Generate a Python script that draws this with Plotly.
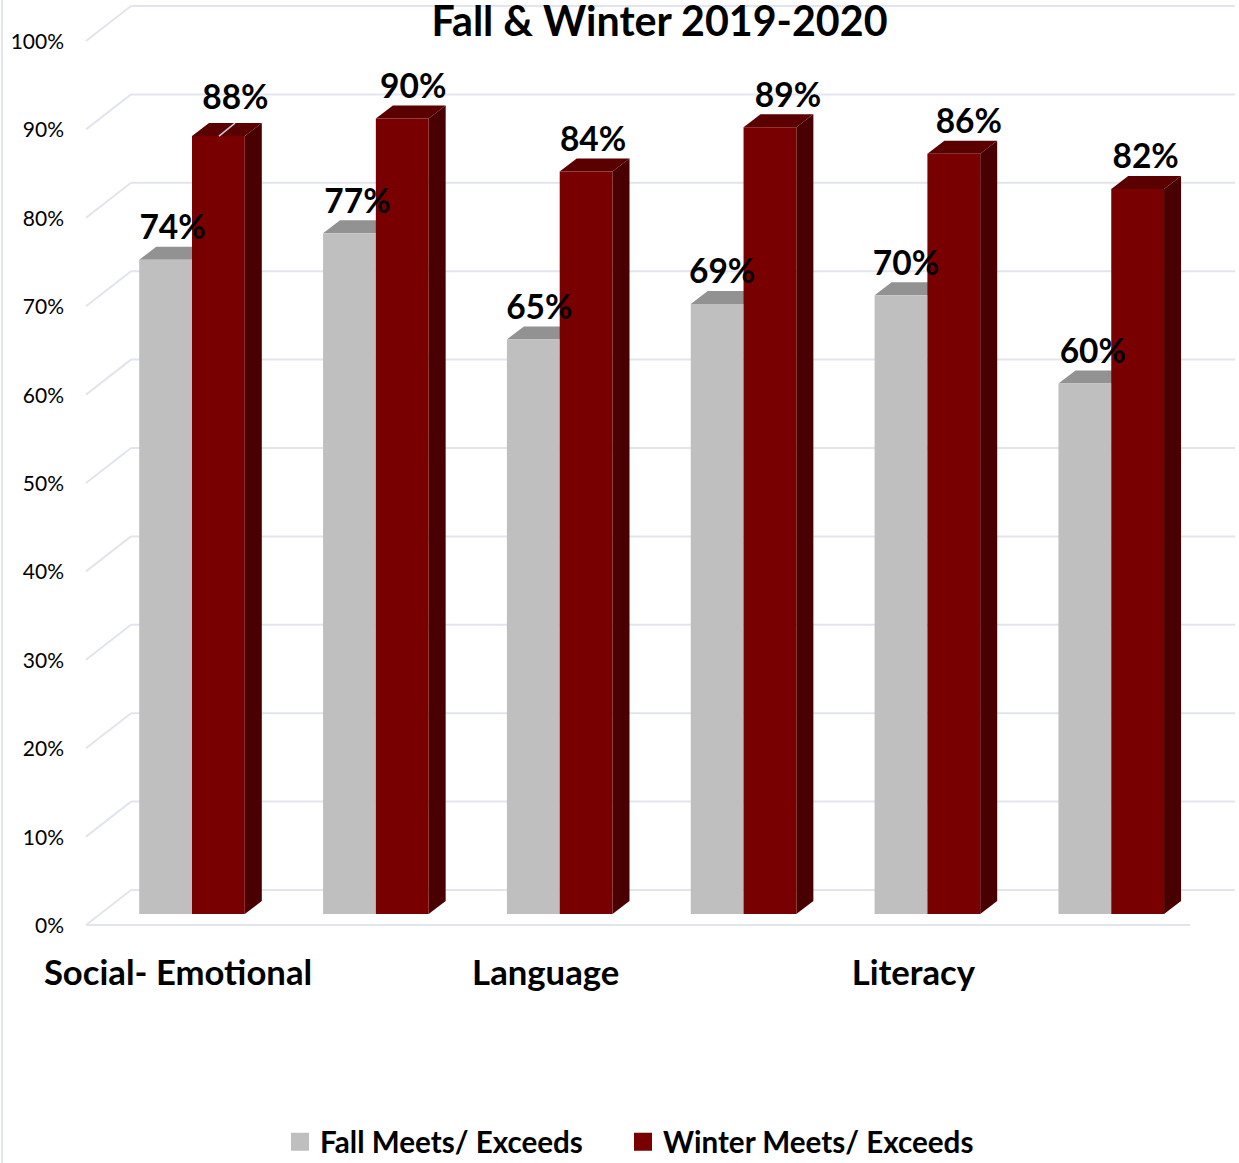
import plotly.graph_objects as go

# ---- data ----
categories = ["Social- Emotional", "", "Language", "", "Literacy", ""]
fall_values = [74, 77, 65, 69, 70, 60]
winter_values = [88, 90, 84, 89, 86, 82]
value_ticks = [0, 10, 20, 30, 40, 50, 60, 70, 80, 90, 100]
series_names = ["Fall Meets/ Exceeds", "Winter Meets/ Exceeds"]
chart_title = "Fall & Winter 2019-2020"

# label nudges relative to the bar centre, in px (as placed in the original)
fall_label_dx = [7, 8, 6, 5, 5, 8]
winter_label_dx = [17, 11, 7, 18, 15, 8]
winter_label_dy = [35, 29, 29, 29, 29, 29]
fall_label_dy = [29, 29, 29, 29, 29, 29]

# ---- layout constants (px) ----
W, H = 1239, 1163
SPARE = 10            # extra canvas under the window, keeps the legend from resizing the plot
GROUP_PX = 183.85     # one category step
ORIGIN_X = 192.0      # px of category 0 centre (boundary between two bars)
UNIT_PX = 8.84        # one percent
ZERO_Y = 914.0        # px of value 0 on the bar front
BAR_W = 52.8 / GROUP_PX
DEPTH_X = 17.0 / GROUP_PX
DEPTH_Y = 13.0 / UNIT_PX
FLOOR_DY = 11.0 / UNIT_PX   # front floor line is below bar base
BACK_DY = 24.0 / UNIT_PX    # back wall is above bar base
LEFT_X = (86 - ORIGIN_X) / GROUP_PX
WALL_X = (131 - ORIGIN_X) / GROUP_PX
FLOOR_END_X = (1190 - ORIGIN_X) / GROUP_PX
BACK_END_X = (1235 - ORIGIN_X) / GROUP_PX

FONT = "Lato, Carlito, Calibri, sans-serif"
GRID = "#E2E5EE"
GREY, GREY_TOP = "#BFBFBF", "#929292"
RED, RED_TOP, RED_SIDE = "#790000", "#5A0000", "#480000"

def poly(points):
    return "M" + " L".join(f"{x:.4f},{y:.4f}" for x, y in points) + " Z"

def line_shape(x0, y0, x1, y1):
    return dict(type="line", xref="x", yref="y", x0=x0, y0=y0, x1=x1, y1=y1,
                layer="below", line=dict(color=GRID, width=2))

shapes = []
# wall / floor lines
for v in value_ticks:
    shapes.append(line_shape(WALL_X, v + BACK_DY, BACK_END_X, v + BACK_DY))
    shapes.append(line_shape(LEFT_X, v - FLOOR_DY, WALL_X, v + BACK_DY))
shapes.append(line_shape(LEFT_X, -FLOOR_DY, FLOOR_END_X, -FLOOR_DY))
shapes.append(dict(type="line", xref="paper", yref="paper", x0=2 / W, x1=2 / W, y0=0, y1=1,
                   layer="below", line=dict(color=GRID, width=2)))

# 3-D faces, behind the front faces
for i, (f, w) in enumerate(zip(fall_values, winter_values)):
    shapes.append(dict(type="path", xref="x", yref="y", layer="below", line=dict(width=0),
                       fillcolor=GREY_TOP,
                       path=poly([(i - BAR_W, f), (i, f), (i + DEPTH_X, f + DEPTH_Y),
                                  (i - BAR_W + DEPTH_X, f + DEPTH_Y)])))
    shapes.append(dict(type="path", xref="x", yref="y", layer="below", line=dict(width=0),
                       fillcolor=RED_TOP,
                       path=poly([(i, w), (i + BAR_W, w), (i + BAR_W + DEPTH_X, w + DEPTH_Y),
                                  (i + DEPTH_X, w + DEPTH_Y)])))
    shapes.append(dict(type="path", xref="x", yref="y", layer="below", line=dict(width=0),
                       fillcolor=RED_SIDE,
                       path=poly([(i + BAR_W, 0), (i + BAR_W + DEPTH_X, DEPTH_Y),
                                  (i + BAR_W + DEPTH_X, w + DEPTH_Y), (i + BAR_W, w)])))

xs = list(range(len(categories)))
fig = go.Figure()
fig.add_trace(go.Bar(x=xs, y=fall_values, width=BAR_W, offset=-BAR_W, name=series_names[0],
                     marker=dict(color=GREY, line=dict(width=0)), showlegend=False))
fig.add_trace(go.Bar(x=xs, y=winter_values, width=BAR_W, offset=0, name=series_names[1],
                     marker=dict(color=RED, line=dict(width=0)), showlegend=False))

# leader line of the first winter label
fig.add_trace(go.Scatter(x=[0 + 27 / GROUP_PX, 0 + 43 / GROUP_PX],
                         y=[winter_values[0], winter_values[0] + DEPTH_Y],
                         mode="lines", line=dict(color="#C9CDD8", width=1.5),
                         showlegend=False, hoverinfo="skip"))

# data labels
label_font = dict(family=FONT, size=33.5, color="#000000", weight="bold")
fig.add_trace(go.Scatter(
    x=[i - BAR_W / 2 + d / GROUP_PX for i, d in zip(xs, fall_label_dx)],
    y=[v + d / UNIT_PX for v, d in zip(fall_values, fall_label_dy)],
    text=[f"{v}%" for v in fall_values], mode="text", textposition="middle center",
    textfont=label_font, showlegend=False, hoverinfo="skip"))
fig.add_trace(go.Scatter(
    x=[i + BAR_W / 2 + d / GROUP_PX for i, d in zip(xs, winter_label_dx)],
    y=[v + d / UNIT_PX for v, d in zip(winter_values, winter_label_dy)],
    text=[f"{v}%" for v in winter_values], mode="text", textposition="middle center",
    textfont=label_font, showlegend=False, hoverinfo="skip"))

# legend entries (square swatches)
for name, col, entry_w in zip(series_names, [GREY, RED], [298, 335]):
    fig.add_trace(go.Scatter(x=[None], y=[None], mode="markers", name=name, legendwidth=entry_w,
                             marker=dict(symbol="square", size=16, color=col,
                                         line=dict(color=col, width=2))))

# carrier for the overlaid tick-label axes
fig.add_trace(go.Scatter(x=[None], y=[None], xaxis="x2", yaxis="y2", showlegend=False,
                         hoverinfo="skip"))

main_x = [(0 - ORIGIN_X) / GROUP_PX, (W - ORIGIN_X) / GROUP_PX]
main_y = [(ZERO_Y - H) / UNIT_PX, ZERO_Y / UNIT_PX]
label_origin = 178.0
tick_x = [(0 - label_origin) / GROUP_PX, (W - label_origin) / GROUP_PX]
tick_y = [(925.6 - H) / UNIT_PX, 925.6 / UNIT_PX]

fig.update_layout(
    width=W, height=H + SPARE, autosize=False,
    margin=dict(l=0, r=0, t=0, b=SPARE),
    paper_bgcolor="white", plot_bgcolor="white",
    barmode="overlay",
    shapes=shapes,
    title=dict(text=chart_title, x=659.5 / W, xanchor="center", y=1 - 21.5 / (H + SPARE), yanchor="middle",
               xref="paper", yref="container",
               font=dict(family=FONT, size=41.2, color="#000000", weight="bold")),
    xaxis=dict(range=main_x, visible=False, domain=[0, 1]),
    yaxis=dict(range=main_y, visible=False, domain=[0, 1]),
    xaxis2=dict(range=tick_x, overlaying="x", anchor="free", position=1 - 949 / H,
                tickmode="array", tickvals=xs, ticktext=categories, ticks="", showgrid=False,
                zeroline=False, showline=False, tickangle=0,
                tickfont=dict(family=FONT, size=34.7, color="#000000", weight="bold")),
    yaxis2=dict(range=tick_y, overlaying="y", anchor="free", position=64 / W, side="left",
                tickmode="array", tickvals=value_ticks,
                ticktext=[f"{v}%" for v in value_ticks], ticks="", showgrid=False,
                zeroline=False, showline=False,
                tickfont=dict(family=FONT, size=21, color="#000000")),
    legend=dict(orientation="h", x=280 / W, xanchor="left", y=1 - 1142 / H, yanchor="middle",
                font=dict(family=FONT, size=29.6, color="#000000", weight="bold"),
                bgcolor="rgba(0,0,0,0)"),
)

fig.write_html("out.html", config={"displayModeBar": False},
               post_script="document.body.style.margin='0';document.body.style.overflow='hidden';")
